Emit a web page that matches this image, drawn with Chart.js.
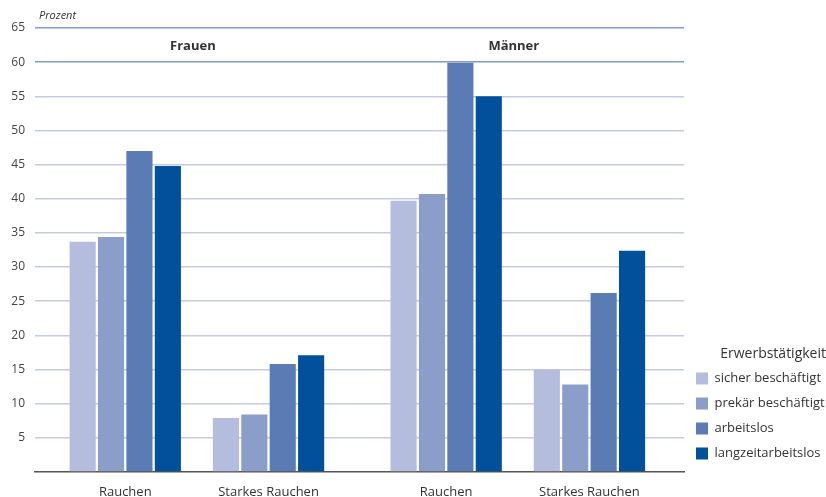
<!DOCTYPE html>
<html lang="de">
<head>
<meta charset="utf-8">
<script src="https://cdn.jsdelivr.net/npm/chart.js@4"></script>
<style>
  html, body { margin: 0; padding: 0; background: #fff; }
  #wrap { width: 826px; height: 497px; }
</style>
</head>
<body>
<div id="wrap"><canvas id="chart"></canvas></div>
<script>
const categories = ["Rauchen", "Starkes Rauchen", "Rauchen", "Starkes Rauchen"];
const groups = ["Frauen", "Männer"];
const seriesNames = ["sicher beschäftigt", "prekär beschäftigt", "arbeitslos", "langzeitarbeitslos"];
const sicher = [33.7, 7.9, 39.7, 15.0];
const prekaer = [34.4, 8.4, 40.7, 12.8];
const arbeitslos = [47.0, 15.8, 59.9, 26.2];
const langzeit = [44.8, 17.1, 55.0, 32.4];
const yTicks = [5, 10, 15, 20, 25, 30, 35, 40, 45, 50, 55, 60, 65];

const colors = ["#b4bddd", "#8b9dc9", "#5b7bb5", "#01509c"];
const font = "'Open Sans', 'DejaVu Sans', sans-serif";

// category positions on the x axis: the second group (Männer) sits a bit further away
const groupGap = 0.24;
const positions = categories.map((c, i) => i + (i >= 2 ? groupGap : 0));

const chartContext = document.getElementById("chart").getContext("2d");

const labelsPlugin = {
  id: "labels",
  afterLayout(chart) {
    // legend block ends at the x axis, not at the bottom of the canvas
    chart.legend.bottom = chart.chartArea.bottom;
  },
  afterDraw(chart) {
    const ctx = chart.ctx;
    const x = chart.scales.x;
    const area = chart.chartArea;
    ctx.save();
    ctx.fillStyle = "#333";
    ctx.font = "italic 11px " + font;
    ctx.textAlign = "left";
    ctx.textBaseline = "alphabetic";
    ctx.fillText("Prozent", 39, 19);

    ctx.font = "bold 13px " + font;
    ctx.textAlign = "center";
    ctx.textBaseline = "middle";
    groups.forEach((g, i) => {
      const a = x.getPixelForValue(positions[i * 2]);
      const b = x.getPixelForValue(positions[i * 2 + 1]);
      ctx.fillText(g, (a + b) / 2 - 4, area.top + 18);
    });
    ctx.restore();
  },
};

const datasets = [sicher, prekaer, arbeitslos, langzeit].map((values, s) => ({
  label: seriesNames[s],
  data: values.map((v, i) => ({ x: positions[i], y: v })),
  backgroundColor: colors[s],
  borderWidth: 0,
  categoryPercentage: 0.793,
  barPercentage: 0.92,
}));

new Chart(chartContext, {
  type: "bar",
  data: { datasets },
  options: {
    responsive: true,
    maintainAspectRatio: false,
    animation: false,
    layout: { padding: { top: 28, left: 0, right: 0, bottom: 0 } },
    plugins: {
      tooltip: { enabled: false },
      legend: {
        position: "right",
        align: "end",
        maxWidth: 142,
        title: {
          display: true,
          text: "Erwerbstätigkeit",
          position: "end",
          color: "#333",
          font: { family: font, size: 14 },
          padding: { top: 0, bottom: -4 },
        },
        labels: {
          boxWidth: 12,
          boxHeight: 12,
          padding: 12,
          color: "#333",
          font: { family: font, size: 13 },
        },
      },
    },
    scales: {
      x: {
        type: "linear",
        offset: false,
        min: -0.63,
        max: 3.9,
        afterBuildTicks: (scale) => {
          scale.ticks = positions.map((p) => ({ value: p }));
        },
        afterFit: (scale) => {
          scale.height = 25;
        },
        ticks: {
          autoSkip: false,
          maxRotation: 0,
          padding: 12,
          color: "#333",
          font: { family: font, size: 13 },
          callback: (value, index) => categories[index],
        },
        grid: { display: false, drawTicks: false },
        border: { display: true, color: "#555", width: 1.5 },
      },
      y: {
        min: 0,
        max: 65,
        afterBuildTicks: (scale) => {
          scale.ticks = [0, ...yTicks].map((v) => ({ value: v }));
        },
        afterFit: (scale) => {
          scale.width = 35;
        },
        ticks: {
          padding: 10,
          color: "#444",
          font: { family: font, size: 12 },
          callback: (value) => (value === 0 ? "" : value),
        },
        grid: {
          drawTicks: false,
          lineWidth: 1.5,
          color: (c) => {
            const v = c.tick && c.tick.value;
            if (v === 0) return "rgba(0,0,0,0)";
            if (v >= 60) return "#7f9ccb";
            return "#c6cbe4";
          },
        },
        border: { display: false },
      },
    },
  },
  plugins: [labelsPlugin],
});
</script>
</body>
</html>
